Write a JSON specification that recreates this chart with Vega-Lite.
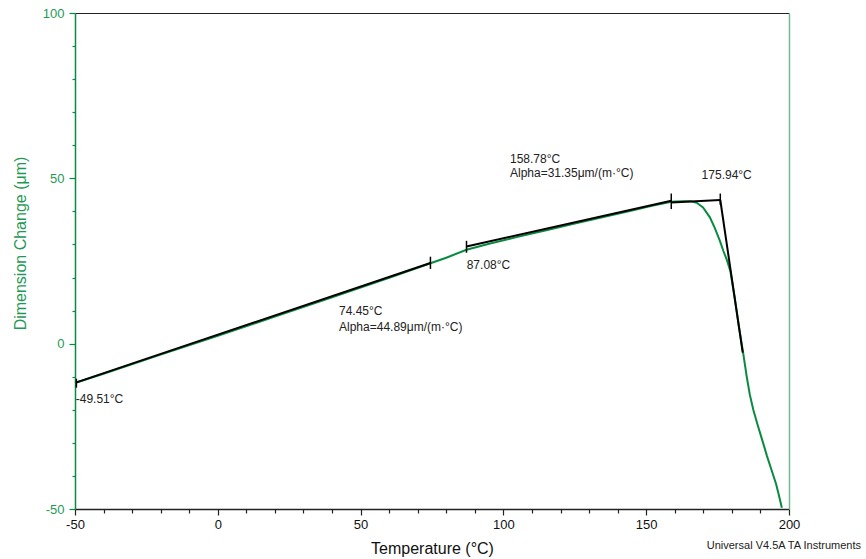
{
  "$schema": "https://vega.github.io/schema/vega-lite/v6.json",
  "width": 714,
  "height": 496,
  "autosize": "none",
  "padding": {"left": 75, "top": 13, "right": 77, "bottom": 50},
  "config": {
    "view": {"stroke": null},
    "font": "Liberation Sans",
    "axis": {"labelFont": "Liberation Sans", "titleFont": "Liberation Sans", "grid": false, "labelFlush": false, "labelOverlap": false, "labelBound": false}
  },
  "datasets": {
    "curve": [
      {"T": -50, "D": -11.9}, {"T": -40, "D": -9.1}, {"T": -20, "D": -3.3}, {"T": 0, "D": 2.4},
      {"T": 20, "D": 8.2}, {"T": 40, "D": 14.0}, {"T": 60, "D": 19.9}, {"T": 74.45, "D": 24.3},
      {"T": 80, "D": 26.0}, {"T": 87.08, "D": 28.4}, {"T": 95, "D": 30.2}, {"T": 105, "D": 32.3},
      {"T": 115, "D": 34.3}, {"T": 125, "D": 36.3}, {"T": 135, "D": 38.3}, {"T": 145, "D": 40.3},
      {"T": 152, "D": 41.7}, {"T": 158.78, "D": 42.9}, {"T": 160.5, "D": 43.0}, {"T": 163, "D": 43.1},
      {"T": 165.5, "D": 43.1}, {"T": 167.7, "D": 42.6}, {"T": 169.9, "D": 41.2}, {"T": 172.3, "D": 38.2},
      {"T": 174, "D": 35.0}, {"T": 175.8, "D": 31.1}, {"T": 177.0, "D": 28.1}, {"T": 178.3, "D": 25.2},
      {"T": 179.5, "D": 21.8}, {"T": 181.0, "D": 13.8}, {"T": 182.5, "D": 5.0}, {"T": 184.0, "D": -3.1},
      {"T": 185.2, "D": -10.0}, {"T": 186.3, "D": -15.5}, {"T": 187.5, "D": -20.0}, {"T": 189.0, "D": -24.5},
      {"T": 190.5, "D": -28.8}, {"T": 192.3, "D": -34.0}, {"T": 194, "D": -38.5}, {"T": 195.5, "D": -42.5},
      {"T": 196.5, "D": -46.0}, {"T": 197.5, "D": -49.6}
    ],
    "segments": [
      {"seg": 1, "T": -49.51, "D": -11.7}, {"seg": 1, "T": 74.45, "D": 24.4},
      {"seg": 2, "T": 87.08, "D": 29.4}, {"seg": 2, "T": 158.78, "D": 43.2},
      {"seg": 3, "T": 158.78, "D": 42.7}, {"seg": 3, "T": 175.94, "D": 43.45},
      {"seg": 4, "T": 175.94, "D": 43.45}, {"seg": 4, "T": 183.8, "D": -2.7}
    ],
    "marks": [
      {"T": -49.51, "D1": -10.6, "D2": -13.3},
      {"T": 74.45, "D1": 26.3, "D2": 22.6},
      {"T": 87.08, "D1": 31.1, "D2": 27.5},
      {"T": 158.78, "D1": 45.4, "D2": 40.7},
      {"T": 175.94, "D1": 45.4, "D2": 42.0}
    ],
    "labels": [
      {"T": -49.75, "D": -16.6, "label": "-49.51°C"},
      {"T": 42.44, "D": 9.98, "label": "74.45°C"},
      {"T": 42.44, "D": 5.14, "label": "Alpha=44.89μm/(m·°C)"},
      {"T": 87.15, "D": 23.7, "label": "87.08°C"},
      {"T": 102.3, "D": 55.9, "label": "158.78°C"},
      {"T": 102.3, "D": 51.6, "label": "Alpha=31.35μm/(m·°C)"},
      {"T": 169.4, "D": 51.1, "label": "175.94°C"}
    ],
    "footer": [
      {"T": 171.2, "D": -62.0, "label": "Universal V4.5A TA Instruments"}
    ]
  },
  "layer": [
    {
      "data": {"name": "curve"},
      "mark": {"type": "line", "color": "#0a8a40", "strokeWidth": 2},
      "encoding": {
        "x": {
          "field": "T", "type": "quantitative",
          "scale": {"domain": [-50, 200], "nice": false, "zero": false},
          "axis": {
            "orient": "bottom",
            "title": "Temperature (°C)",
            "values": [-50, 0, 50, 100, 150, 200],
            "labelExpr": "'' + datum.value",
            "tickSize": 6,
            "labelPadding": 3,
            "labelFontSize": 13,
            "labelColor": "#111",
            "domainColor": "#222",
            "domainWidth": 1.5,
            "tickColor": "#222",
            "tickWidth": 1.2,
            "titleFontSize": 16,
            "titleFontWeight": "normal",
            "titleColor": "#111",
            "titleBaseline": "alphabetic",
            "titleY": 44
          }
        },
        "y": {
          "field": "D", "type": "quantitative",
          "scale": {"domain": [-50, 100], "nice": false, "zero": false},
          "axis": {
            "orient": "left",
            "title": "Dimension Change (μm)",
            "values": [-50, 0, 50, 100],
            "labelExpr": "'' + datum.value",
            "tickSize": 6,
            "labelPadding": 5,
            "labelFontSize": 13,
            "labelColor": "#1f9a55",
            "domainColor": "#0a8a40",
            "domainWidth": 1.5,
            "tickColor": "#0a8a40",
            "tickWidth": 1.2,
            "titleFontSize": 16,
            "titleFontWeight": "normal",
            "titleColor": "#1f9a55",
            "titleBaseline": "alphabetic",
            "titleX": -50,
            "titleY": 230
          }
        }
      }
    },
    {
      "data": {"name": "segments"},
      "mark": {"type": "line", "color": "#000", "strokeWidth": 2},
      "encoding": {
        "x": {"field": "T", "type": "quantitative",
          "axis": {"orient": "bottom", "title": null, "labels": false, "domain": false,
            "values": [-40, -30, -20, -10, 10, 20, 30, 40, 60, 70, 80, 90, 110, 120, 130, 140, 160, 170, 180, 190],
            "tickSize": 4, "tickColor": "#222", "tickWidth": 1.2}},
        "y": {"field": "D", "type": "quantitative",
          "axis": {"orient": "left", "title": null, "labels": false, "domain": false,
            "values": [-40, -30, -20, -10, 10, 20, 30, 40, 60, 70, 80, 90],
            "tickSize": 3, "tickColor": "#0a8a40", "tickWidth": 1.2}},
        "detail": {"field": "seg", "type": "nominal"}
      }
    },
    {
      "data": {"name": "marks"},
      "mark": {"type": "rule", "color": "#000", "strokeWidth": 1.5},
      "encoding": {
        "x": {"field": "T", "type": "quantitative", "axis": null},
        "y": {"field": "D1", "type": "quantitative", "axis": null},
        "y2": {"field": "D2"}
      }
    },
    {
      "data": {"name": "labels"},
      "mark": {"type": "text", "align": "left", "baseline": "middle", "fontSize": 12, "color": "#222"},
      "encoding": {
        "x": {"field": "T", "type": "quantitative", "axis": null},
        "y": {"field": "D", "type": "quantitative", "axis": null},
        "text": {"field": "label"}
      }
    },
    {
      "data": {"name": "footer"},
      "mark": {"type": "text", "align": "left", "baseline": "alphabetic", "fontSize": 11, "color": "#222"},
      "encoding": {
        "x": {"field": "T", "type": "quantitative",
          "axis": {"orient": "top", "title": null, "labels": false, "ticks": false, "domainColor": "#222", "domainWidth": 1}},
        "y": {"field": "D", "type": "quantitative",
          "axis": {"orient": "right", "title": null, "labels": false, "ticks": false, "domainColor": "#6dbd8e", "domainWidth": 1.5}},
        "text": {"field": "label"}
      }
    }
  ],
  "resolve": {"axis": {"x": "independent", "y": "independent"}}
}
